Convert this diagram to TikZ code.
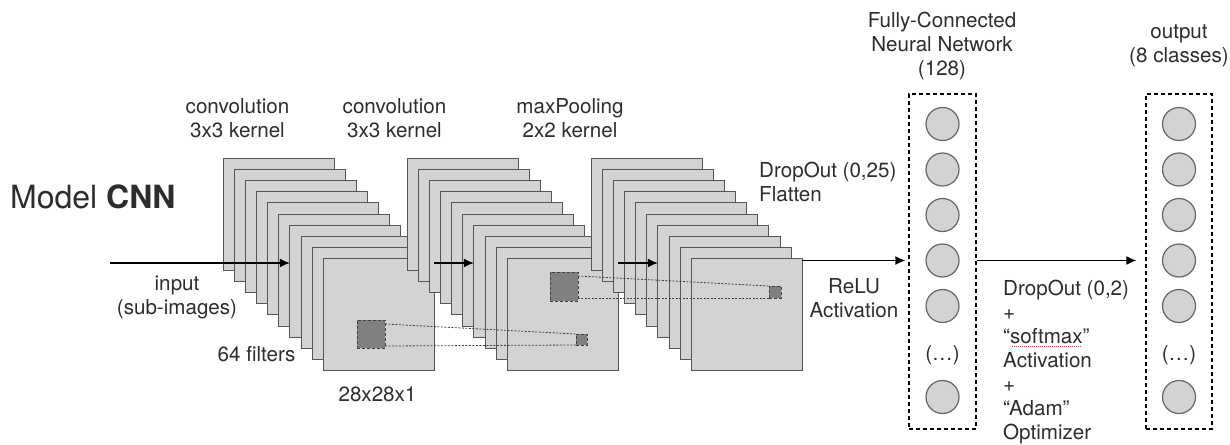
\documentclass[tikz,border=0pt]{standalone}
\usepackage{fontspec}
\setmainfont{TeX Gyre Heros}
\usetikzlibrary{arrows.meta,calc}
\definecolor{sqfill}{RGB}{211,211,211}
\definecolor{sqline}{RGB}{85,85,85}
\definecolor{darksq}{RGB}{128,128,128}
\definecolor{txt}{RGB}{45,45,45}
\begin{document}
\begin{tikzpicture}[x=1pt,y=-1pt,
  fmap/.style={draw=sqline,fill=sqfill,line width=0.9pt,minimum width=111pt,minimum height=112pt,inner sep=0pt,outer sep=0pt,anchor=north west},
  ksq/.style={draw=black!75,fill=darksq,densely dashed,line width=0.8pt,inner sep=0pt,outer sep=0pt,anchor=north west},
  link/.style={draw=black!75,dash pattern=on 2pt off 1.5pt,line width=0.8pt},
  flow/.style={line width=1.4pt,-{Latex[length=10pt,width=9pt]}},
  lbl/.style={font=\fontsize{20.6}{24}\selectfont,text=txt,inner sep=0pt,align=center},
  neuron/.style={circle,draw=black!60,fill=sqfill,line width=1.2pt,minimum size=33pt,inner sep=0pt},
  layerbox/.style={draw=black,dash pattern=on 4pt off 3pt,line width=1.3pt,minimum width=67pt,minimum height=335pt,inner sep=0pt}]
\useasboundingbox (0,0) rectangle (1230,444);

% feature-map stacks
\foreach \s/\x in {a/223,b/407,c/591}{
  \foreach \i in {1,...,10}{
    \node[fmap] (\s\i) at ({\x+(\i-1)*11.15},{158+(\i-1)*11.2}) {};
  }
}

% kernel squares
\node[ksq,minimum width=28pt,minimum height=28pt] (k1) at ($(a10.north west)+(33.6,61.2)$) {};
\node[ksq,minimum size=11pt] (p1) at ($(b10.north west)+(68.6,75.2)$) {};
\node[ksq,minimum width=28pt,minimum height=29pt] (k2) at ($(b10.north west)+(42.6,13.2)$) {};
\node[ksq,minimum size=12pt] (p2) at ($(c10.north west)+(77.6,27.2)$) {};

\draw[link] ($(k1.north east)+(0,4)$) -- (p1.north west);
\draw[link] ($(k1.south east)+(0,-2)$) -- (p1.south west);
\draw[link] ($(k2.north east)+(0,4)$) -- (p2.north west);
\draw[link] ($(k2.south east)+(0,-3)$) -- (p2.south west);

% arrows through stacks
\coordinate (in) at (110,263);
\draw[flow] (in) -- (in -| a7.west);
\draw[flow] (a10.east |- in) -- (in -| b7.west);
\draw[flow] (b10.east |- in) -- (in -| c7.west);

% dense layers
\node[layerbox] (fc) at (942.5,261.5) {};
\node[layerbox,minimum width=66pt] (out) at (1179,261.5) {};
\foreach \k/\y in {1/124,2/169.5,3/215,4/260.5,5/306,7/397}{
  \node[neuron] (f\k) at (942.5,\y) {};
  \node[neuron] (o\k) at (1179,\y) {};
}
\node[lbl] (fdots) at (942.5,355) {(…)};
\node[lbl] (odots) at (1179,355) {(…)};

\draw[flow,shorten >=3pt] (c10.east |- f4) -- (fc.west |- f4);
\draw[flow,shorten >=9pt] (fc.east |- f4) -- (out.west |- f4);

% labels
\node[lbl,font=\fontsize{32}{38}\selectfont,anchor=west] (title) at (10,197) {Model \textbf{CNN}};
\node[lbl,anchor=north] (inlbl) at (177,276) {input\\(sub-images)};
\node[lbl,anchor=north] (filt) at (256.5,346) {64 filters};
\node[lbl,anchor=north] (size) at (377.5,387) {28x28x1};
\node[lbl,anchor=north] (conv1) at (237.5,98) {convolution\\3x3 kernel};
\node[lbl,anchor=north] (conv2) at (394.5,98) {convolution\\3x3 kernel};
\node[lbl,anchor=north] (pool) at (570,98) {maxPooling\\2x2 kernel};
\node[lbl,anchor=north west,align=left] (drop1) at (759,162) {DropOut (0,25)\\Flatten};
\node[lbl,anchor=north] (relu) at (854,278) {ReLU\\Activation};
\node[lbl,anchor=north] (fclbl) at (942,12) {Fully-Connected\\Neural Network\\(128)};
\node[lbl,anchor=north] (outlbl) at (1179,25) {output\\(8 classes)};
\node[lbl,anchor=north west,align=left] (drop2) at (1003,280) {DropOut (0,2)\\+\\“softmax”\\Activation\\+\\“Adam”\\Optimizer};
\draw[red!80,line width=1pt,dash pattern=on 1pt off 1pt] (1012,346) -- (1081,346);
\end{tikzpicture}
\end{document}
